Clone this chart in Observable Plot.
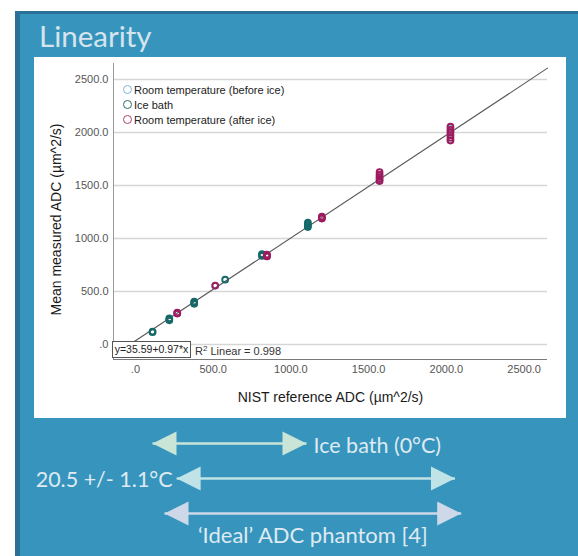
<!DOCTYPE html>
<html>
<head>
<meta charset="utf-8">
<script src="https://cdn.jsdelivr.net/npm/d3@7"></script>
<script src="https://cdn.jsdelivr.net/npm/@observablehq/plot@0.6"></script>
<style>
  html, body { margin: 0; padding: 0; background: #ffffff; }
  #page { position: relative; width: 578px; height: 556px; overflow: hidden; background: #ffffff; }
  .abs { position: absolute; }
  #darkframe { left: 15px; top: 11px; right: 0; bottom: 0; background: #2b7096; }
  #panel { left: 20px; top: 14px; right: 0; bottom: 0; background: #3795bd; }
  #title { left: 39px; top: 18px; font-family: Lato, "Open Sans", sans-serif; font-size: 29.5px; color: #d6e4ee; white-space: nowrap; }
  #whitebox { left: 34px; top: 57px; width: 532px; height: 361px; background: #ffffff; }
  #legend { left: 123px; top: 82px; font-family: "Liberation Sans", Arial, sans-serif; font-size: 11px; color: #222; }
  .lrow { height: 15px; display: flex; align-items: center; white-space: nowrap; }
  .lsw { width: 7px; height: 7px; border-radius: 50%; border: 1.3px solid; margin-right: 2px; box-sizing: content-box; }
  #eqbox { left: 112px; top: 341px; width: 77px; height: 15px; border: 1.5px solid #555; background: #fff; font-family: "Liberation Sans", Arial, sans-serif; font-size: 10.5px; color: #222; line-height: 15px; text-align: center; white-space: nowrap; }
  #r2 { left: 195px; top: 344px; font-family: "Liberation Sans", Arial, sans-serif; font-size: 11px; color: #333; white-space: nowrap; line-height: 14px; }
  #r2 sup { font-size: 8px; vertical-align: 4px; line-height: 0; }
</style>
</head>
<body>
<div id="page">
  <div id="darkframe" class="abs"></div>
  <div id="panel" class="abs"></div>
  <div id="title" class="abs">Linearity</div>
  <div id="whitebox" class="abs"></div>
  <div id="chart" class="abs" style="left:0;top:0;"></div>
  <div id="arrows" class="abs" style="left:0;top:420px;"></div>
  <div id="legend" class="abs"></div>
  <div id="eqbox" class="abs"></div>
  <div id="r2" class="abs"></div>
</div>
<script>
// ---------- data ----------
const xDomain = [-141, 2650];
const yDomain = [-141, 2650];
const tickValues = [0, 500, 1000, 1500, 2000, 2500];

const seriesNames = ["Room temperature (before ice)", "Ice bath", "Room temperature (after ice)"];
const seriesColors = ["#7ab7dc", "#16696a", "#a01a5d"];
const legendColors = ["#7ab7dc", "#2d6a6a", "#a8456f"];

// NIST reference ADC (x) and measured ADC replicates (y), µm^2/s
const roomBeforeX = [269, 513, 846, 1199, 1570, 2026];
const roomBeforeY = [[294, 300], [554], [832, 842], [1190, 1200], [1545, 1570, 1600], [1930, 1970, 2010, 2040]];
const iceBathX = [110, 218, 378, 577, 814, 1109];
const iceBathY = [[117, 123], [228, 238, 248], [384, 395, 405], [612], [835, 845, 853], [1108, 1120, 1135, 1150]];
const roomAfterX = [269, 513, 846, 1199, 1570, 2026];
const roomAfterY = [[292, 302], [556], [830, 840, 848], [1188, 1197, 1206], [1541, 1560, 1580, 1600, 1626], [1923, 1950, 1975, 2000, 2025, 2055]];

// linear fit shown on the chart
const fitIntercept = 35.59;
const fitSlope = 0.97;
const fitR2 = 0.998;

// temperature ranges below the chart (ADC units on the same x scale)
const arrowLabels = ["Ice bath (0°C)", "20.5 +/- 1.1°C", "\u2018Ideal\u2019 ADC phantom [4]"];
const arrowStart = [110, 265, 187];
const arrowEnd = [1100, 2055, 2095];
const arrowColors = ["#c9e5d7", "#bfe3e6", "#cdd8e8"];

const xLabel = "NIST reference ADC (µm^2/s)";
const yLabel = "Mean measured ADC (µm^2/s)";

// ---------- build tables ----------
const seriesX = [roomBeforeX, iceBathX, roomAfterX];
const seriesY = [roomBeforeY, iceBathY, roomAfterY];
const points = [];
seriesNames.forEach((name, s) => {
  seriesX[s].forEach((xv, i) => {
    seriesY[s][i].forEach(yv => points.push({series: name, color: seriesColors[s], x: xv, y: yv}));
  });
});
const fitLine = xDomain.map(x => ({x, y: fitIntercept + fitSlope * x}));
const fmt = d => d === 0 ? ".0" : d3.format(".1f")(d);

const chart = Plot.plot({
  width: 578,
  height: 420,
  marginLeft: 113,
  marginRight: 31,
  marginTop: 63,
  marginBottom: 61,
  style: {background: "transparent", fontFamily: "'Liberation Sans', Arial, sans-serif", overflow: "visible"},
  x: {domain: xDomain},
  y: {domain: yDomain},
  color: {type: "identity"},
  marks: [
    Plot.gridY(tickValues, {stroke: "#d6d6d6", strokeOpacity: 1, strokeWidth: 1.5}),
    Plot.line(fitLine, {x: "x", y: "y", stroke: "#5a5a5a", strokeWidth: 1.1}),
    Plot.dot(points, {x: "x", y: "y", stroke: "color", r: 2.9, strokeWidth: 1.9}),
    Plot.ruleX([xDomain[0]], {stroke: "#9a9a9a", strokeWidth: 1}),
    Plot.ruleY([yDomain[0]], {stroke: "#7a7a7a", strokeWidth: 1}),
    Plot.axisX({ticks: tickValues, tickSize: 0, tickPadding: 6, tickFormat: fmt, fontSize: 11, fill: "#555", label: null}),
    Plot.axisY({ticks: tickValues, tickSize: 0, tickPadding: 5, tickFormat: fmt, fontSize: 11, fill: "#555", label: null}),
    Plot.text([xLabel], {text: d => d, frameAnchor: "bottom", lineAnchor: "middle", textAnchor: "middle", dy: 38, fontSize: 14, fill: "#1a1a1a"}),
    Plot.text([yLabel], {text: d => d, frameAnchor: "left", lineAnchor: "middle", textAnchor: "middle", dx: -57, dy: 8, rotate: -90, fontSize: 14, fill: "#1a1a1a"})
  ]
});
document.getElementById("chart").appendChild(chart);

// ---------- arrows below the chart ----------
const arrowRows = arrowLabels.map((label, i) => ({label, start: arrowStart[i], end: arrowEnd[i], color: arrowColors[i]}));
const headRight = {draw(ctx) { ctx.moveTo(0, 0); ctx.lineTo(-24, -12); ctx.lineTo(-24, 12); ctx.closePath(); }};
const headLeft = {draw(ctx) { ctx.moveTo(0, 0); ctx.lineTo(24, -12); ctx.lineTo(24, 12); ctx.closePath(); }};

const arrows = Plot.plot({
  width: 578,
  height: 136,
  marginLeft: 113,
  marginRight: 31,
  marginTop: 23,
  marginBottom: 43,
  style: {background: "transparent", fontFamily: "Lato, 'Open Sans', sans-serif", overflow: "visible"},
  x: {domain: xDomain, axis: null},
  y: {type: "point", domain: arrowLabels, padding: 0, axis: null},
  color: {type: "identity"},
  marks: [
    Plot.link(arrowRows, {x1: "start", x2: "end", y1: "label", y2: "label", stroke: "color", strokeWidth: 2.5}),
    Plot.dot(arrowRows, {x: "end", y: "label", symbol: headRight, fill: "color", r: 12}),
    Plot.dot(arrowRows, {x: "start", y: "label", symbol: headLeft, fill: "color", r: 12}),
    Plot.text(arrowRows.slice(0, 1), {x: "end", y: "label", text: "label", textAnchor: "start", dx: 7, dy: 3, fontSize: 21.5, fill: "#dfeaf2"}),
    Plot.text(arrowRows.slice(1, 2), {x: "start", y: "label", text: "label", textAnchor: "end", dx: -4, dy: 2, fontSize: 21.5, fill: "#dfeaf2"}),
    Plot.text(arrowRows.slice(2, 3), {x: d => (d.start + d.end) / 2, y: "label", text: "label", dy: 22, fontSize: 22, fill: "#dfeaf2"})
  ]
});
document.getElementById("arrows").appendChild(arrows);

// ---------- legend & fit annotation ----------
const legend = document.getElementById("legend");
seriesNames.forEach((name, i) => {
  const row = document.createElement("div");
  row.className = "lrow";
  const sw = document.createElement("span");
  sw.className = "lsw";
  sw.style.borderColor = legendColors[i];
  const t = document.createElement("span");
  t.textContent = name;
  row.appendChild(sw);
  row.appendChild(t);
  legend.appendChild(row);
});
document.getElementById("eqbox").textContent = `y=${fitIntercept}+${fitSlope}*x`;
document.getElementById("r2").innerHTML = `R<sup>2</sup> Linear = ${fitR2}`;
</script>
</body>
</html>
